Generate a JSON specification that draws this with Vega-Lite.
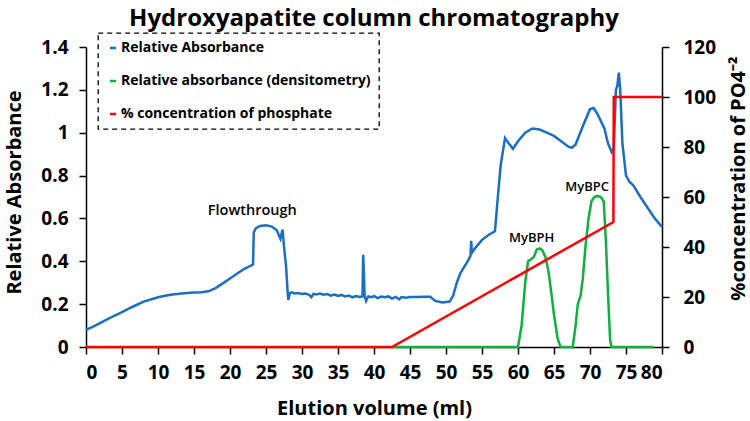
{
  "$schema": "https://vega.github.io/schema/vega-lite/v6.json",
  "width": 576,
  "height": 300,
  "autosize": {"type": "none"},
  "padding": {"left": 86, "top": 47, "right": 88, "bottom": 74},
  "background": "white",
  "title": {"text": "Hydroxyapatite column chromatography", "fontSize": 24, "font": "Open Sans", "fontWeight": "bold", "anchor": "middle", "baseline": "alphabetic", "offset": -18, "color": "black"},
  "config": {
    "view": {"stroke": null},
    "font": "Open Sans",
    "axis": {"grid": false, "domainColor": "black", "domainWidth": 1.5, "tickColor": "black", "tickWidth": 1.5, "tickSize": 7, "labelFont": "Open Sans", "labelFontWeight": "bold", "labelFontSize": 19, "labelColor": "black", "labelOverlap": false, "titleFont": "Open Sans", "titleFontWeight": "bold", "titleFontSize": 20, "titleColor": "black"}
  },
  "datasets": {
    "main": [
      {"ml": 0, "value": 0.08, "series": "Relative Absorbance"},
      {"ml": 1, "value": 0.095, "series": "Relative Absorbance"},
      {"ml": 2, "value": 0.113, "series": "Relative Absorbance"},
      {"ml": 3, "value": 0.13, "series": "Relative Absorbance"},
      {"ml": 4, "value": 0.147, "series": "Relative Absorbance"},
      {"ml": 5, "value": 0.163, "series": "Relative Absorbance"},
      {"ml": 6, "value": 0.18, "series": "Relative Absorbance"},
      {"ml": 7, "value": 0.196, "series": "Relative Absorbance"},
      {"ml": 8, "value": 0.212, "series": "Relative Absorbance"},
      {"ml": 9, "value": 0.222, "series": "Relative Absorbance"},
      {"ml": 10, "value": 0.232, "series": "Relative Absorbance"},
      {"ml": 11, "value": 0.239, "series": "Relative Absorbance"},
      {"ml": 12, "value": 0.245, "series": "Relative Absorbance"},
      {"ml": 13, "value": 0.249, "series": "Relative Absorbance"},
      {"ml": 14, "value": 0.252, "series": "Relative Absorbance"},
      {"ml": 15, "value": 0.254, "series": "Relative Absorbance"},
      {"ml": 16, "value": 0.256, "series": "Relative Absorbance"},
      {"ml": 17, "value": 0.26, "series": "Relative Absorbance"},
      {"ml": 18, "value": 0.275, "series": "Relative Absorbance"},
      {"ml": 19, "value": 0.297, "series": "Relative Absorbance"},
      {"ml": 20, "value": 0.32, "series": "Relative Absorbance"},
      {"ml": 21, "value": 0.343, "series": "Relative Absorbance"},
      {"ml": 22, "value": 0.365, "series": "Relative Absorbance"},
      {"ml": 23.2, "value": 0.385, "series": "Relative Absorbance"},
      {"ml": 23.3, "value": 0.535, "series": "Relative Absorbance"},
      {"ml": 23.6, "value": 0.555, "series": "Relative Absorbance"},
      {"ml": 24.2, "value": 0.565, "series": "Relative Absorbance"},
      {"ml": 25, "value": 0.568, "series": "Relative Absorbance"},
      {"ml": 25.8, "value": 0.562, "series": "Relative Absorbance"},
      {"ml": 26.5, "value": 0.545, "series": "Relative Absorbance"},
      {"ml": 27.0, "value": 0.505, "series": "Relative Absorbance"},
      {"ml": 27.3, "value": 0.548, "series": "Relative Absorbance"},
      {"ml": 27.5, "value": 0.47, "series": "Relative Absorbance"},
      {"ml": 27.8, "value": 0.37, "series": "Relative Absorbance"},
      {"ml": 28.0, "value": 0.26, "series": "Relative Absorbance"},
      {"ml": 28.1, "value": 0.22, "series": "Relative Absorbance"},
      {"ml": 28.3, "value": 0.25, "series": "Relative Absorbance"},
      {"ml": 28.6, "value": 0.255, "series": "Relative Absorbance"},
      {"ml": 29, "value": 0.25, "series": "Relative Absorbance"},
      {"ml": 29.5, "value": 0.252, "series": "Relative Absorbance"},
      {"ml": 30, "value": 0.247, "series": "Relative Absorbance"},
      {"ml": 30.5, "value": 0.25, "series": "Relative Absorbance"},
      {"ml": 31, "value": 0.243, "series": "Relative Absorbance"},
      {"ml": 31.3, "value": 0.232, "series": "Relative Absorbance"},
      {"ml": 31.6, "value": 0.248, "series": "Relative Absorbance"},
      {"ml": 32, "value": 0.245, "series": "Relative Absorbance"},
      {"ml": 32.5, "value": 0.249, "series": "Relative Absorbance"},
      {"ml": 33, "value": 0.244, "series": "Relative Absorbance"},
      {"ml": 33.5, "value": 0.247, "series": "Relative Absorbance"},
      {"ml": 34, "value": 0.24, "series": "Relative Absorbance"},
      {"ml": 34.5, "value": 0.245, "series": "Relative Absorbance"},
      {"ml": 35, "value": 0.238, "series": "Relative Absorbance"},
      {"ml": 35.5, "value": 0.243, "series": "Relative Absorbance"},
      {"ml": 36, "value": 0.236, "series": "Relative Absorbance"},
      {"ml": 36.5, "value": 0.24, "series": "Relative Absorbance"},
      {"ml": 37, "value": 0.232, "series": "Relative Absorbance"},
      {"ml": 37.5, "value": 0.238, "series": "Relative Absorbance"},
      {"ml": 38, "value": 0.234, "series": "Relative Absorbance"},
      {"ml": 38.4, "value": 0.236, "series": "Relative Absorbance"},
      {"ml": 38.5, "value": 0.43, "series": "Relative Absorbance"},
      {"ml": 38.7, "value": 0.24, "series": "Relative Absorbance"},
      {"ml": 38.9, "value": 0.215, "series": "Relative Absorbance"},
      {"ml": 39.2, "value": 0.236, "series": "Relative Absorbance"},
      {"ml": 39.7, "value": 0.232, "series": "Relative Absorbance"},
      {"ml": 40, "value": 0.238, "series": "Relative Absorbance"},
      {"ml": 40.5, "value": 0.228, "series": "Relative Absorbance"},
      {"ml": 41, "value": 0.235, "series": "Relative Absorbance"},
      {"ml": 41.5, "value": 0.232, "series": "Relative Absorbance"},
      {"ml": 42, "value": 0.236, "series": "Relative Absorbance"},
      {"ml": 42.5, "value": 0.226, "series": "Relative Absorbance"},
      {"ml": 43, "value": 0.234, "series": "Relative Absorbance"},
      {"ml": 43.5, "value": 0.222, "series": "Relative Absorbance"},
      {"ml": 43.8, "value": 0.233, "series": "Relative Absorbance"},
      {"ml": 44.5, "value": 0.23, "series": "Relative Absorbance"},
      {"ml": 45, "value": 0.233, "series": "Relative Absorbance"},
      {"ml": 46, "value": 0.233, "series": "Relative Absorbance"},
      {"ml": 47, "value": 0.234, "series": "Relative Absorbance"},
      {"ml": 47.8, "value": 0.234, "series": "Relative Absorbance"},
      {"ml": 48.5, "value": 0.215, "series": "Relative Absorbance"},
      {"ml": 49.5, "value": 0.208, "series": "Relative Absorbance"},
      {"ml": 50.5, "value": 0.212, "series": "Relative Absorbance"},
      {"ml": 51, "value": 0.24, "series": "Relative Absorbance"},
      {"ml": 51.5, "value": 0.3, "series": "Relative Absorbance"},
      {"ml": 52, "value": 0.345, "series": "Relative Absorbance"},
      {"ml": 53, "value": 0.4, "series": "Relative Absorbance"},
      {"ml": 53.4, "value": 0.425, "series": "Relative Absorbance"},
      {"ml": 53.5, "value": 0.495, "series": "Relative Absorbance"},
      {"ml": 53.6, "value": 0.44, "series": "Relative Absorbance"},
      {"ml": 54, "value": 0.46, "series": "Relative Absorbance"},
      {"ml": 55, "value": 0.5, "series": "Relative Absorbance"},
      {"ml": 56, "value": 0.525, "series": "Relative Absorbance"},
      {"ml": 56.8, "value": 0.54, "series": "Relative Absorbance"},
      {"ml": 57.2, "value": 0.7, "series": "Relative Absorbance"},
      {"ml": 57.6, "value": 0.85, "series": "Relative Absorbance"},
      {"ml": 58.2, "value": 0.975, "series": "Relative Absorbance"},
      {"ml": 58.6, "value": 0.955, "series": "Relative Absorbance"},
      {"ml": 59.3, "value": 0.925, "series": "Relative Absorbance"},
      {"ml": 60, "value": 0.96, "series": "Relative Absorbance"},
      {"ml": 61, "value": 1.0, "series": "Relative Absorbance"},
      {"ml": 62, "value": 1.02, "series": "Relative Absorbance"},
      {"ml": 63, "value": 1.015, "series": "Relative Absorbance"},
      {"ml": 64, "value": 1.0, "series": "Relative Absorbance"},
      {"ml": 65, "value": 0.985, "series": "Relative Absorbance"},
      {"ml": 66, "value": 0.96, "series": "Relative Absorbance"},
      {"ml": 67, "value": 0.935, "series": "Relative Absorbance"},
      {"ml": 67.5, "value": 0.93, "series": "Relative Absorbance"},
      {"ml": 68, "value": 0.945, "series": "Relative Absorbance"},
      {"ml": 69, "value": 1.03, "series": "Relative Absorbance"},
      {"ml": 70, "value": 1.11, "series": "Relative Absorbance"},
      {"ml": 70.5, "value": 1.115, "series": "Relative Absorbance"},
      {"ml": 71, "value": 1.09, "series": "Relative Absorbance"},
      {"ml": 72, "value": 1.02, "series": "Relative Absorbance"},
      {"ml": 72.5, "value": 0.95, "series": "Relative Absorbance"},
      {"ml": 73, "value": 0.91, "series": "Relative Absorbance"},
      {"ml": 73.3, "value": 0.93, "series": "Relative Absorbance"},
      {"ml": 73.6, "value": 1.2, "series": "Relative Absorbance"},
      {"ml": 73.8, "value": 1.22, "series": "Relative Absorbance"},
      {"ml": 74.0, "value": 1.28, "series": "Relative Absorbance"},
      {"ml": 74.2, "value": 1.2, "series": "Relative Absorbance"},
      {"ml": 74.5, "value": 0.95, "series": "Relative Absorbance"},
      {"ml": 75, "value": 0.8, "series": "Relative Absorbance"},
      {"ml": 75.5, "value": 0.77, "series": "Relative Absorbance"},
      {"ml": 76, "value": 0.755, "series": "Relative Absorbance"},
      {"ml": 77, "value": 0.7, "series": "Relative Absorbance"},
      {"ml": 78, "value": 0.65, "series": "Relative Absorbance"},
      {"ml": 79, "value": 0.6, "series": "Relative Absorbance"},
      {"ml": 80, "value": 0.56, "series": "Relative Absorbance"},
      {"ml": 42.5, "value": 0, "series": "Relative absorbance (densitometry)"},
      {"ml": 60, "value": 0, "series": "Relative absorbance (densitometry)"},
      {"ml": 60.5, "value": 0.1, "series": "Relative absorbance (densitometry)"},
      {"ml": 61, "value": 0.3, "series": "Relative absorbance (densitometry)"},
      {"ml": 61.4, "value": 0.4, "series": "Relative absorbance (densitometry)"},
      {"ml": 61.8, "value": 0.41, "series": "Relative absorbance (densitometry)"},
      {"ml": 62.2, "value": 0.42, "series": "Relative absorbance (densitometry)"},
      {"ml": 62.6, "value": 0.455, "series": "Relative absorbance (densitometry)"},
      {"ml": 63, "value": 0.46, "series": "Relative absorbance (densitometry)"},
      {"ml": 63.4, "value": 0.45, "series": "Relative absorbance (densitometry)"},
      {"ml": 63.8, "value": 0.42, "series": "Relative absorbance (densitometry)"},
      {"ml": 64.2, "value": 0.36, "series": "Relative absorbance (densitometry)"},
      {"ml": 64.6, "value": 0.26, "series": "Relative absorbance (densitometry)"},
      {"ml": 65.0, "value": 0.15, "series": "Relative absorbance (densitometry)"},
      {"ml": 65.5, "value": 0.04, "series": "Relative absorbance (densitometry)"},
      {"ml": 65.9, "value": 0, "series": "Relative absorbance (densitometry)"},
      {"ml": 67.6, "value": 0, "series": "Relative absorbance (densitometry)"},
      {"ml": 68, "value": 0.1, "series": "Relative absorbance (densitometry)"},
      {"ml": 68.3, "value": 0.2, "series": "Relative absorbance (densitometry)"},
      {"ml": 68.7, "value": 0.24, "series": "Relative absorbance (densitometry)"},
      {"ml": 69, "value": 0.32, "series": "Relative absorbance (densitometry)"},
      {"ml": 69.4, "value": 0.48, "series": "Relative absorbance (densitometry)"},
      {"ml": 69.8, "value": 0.6, "series": "Relative absorbance (densitometry)"},
      {"ml": 70.2, "value": 0.68, "series": "Relative absorbance (densitometry)"},
      {"ml": 70.6, "value": 0.7, "series": "Relative absorbance (densitometry)"},
      {"ml": 71.0, "value": 0.705, "series": "Relative absorbance (densitometry)"},
      {"ml": 71.5, "value": 0.7, "series": "Relative absorbance (densitometry)"},
      {"ml": 71.9, "value": 0.68, "series": "Relative absorbance (densitometry)"},
      {"ml": 72.2, "value": 0.5, "series": "Relative absorbance (densitometry)"},
      {"ml": 72.5, "value": 0.25, "series": "Relative absorbance (densitometry)"},
      {"ml": 72.8, "value": 0.03, "series": "Relative absorbance (densitometry)"},
      {"ml": 73, "value": 0, "series": "Relative absorbance (densitometry)"},
      {"ml": 78.8, "value": 0, "series": "Relative absorbance (densitometry)"},
      {"ml": 0, "value": 0, "series": "% concentration of phosphate"},
      {"ml": 42.5, "value": 0, "series": "% concentration of phosphate"},
      {"ml": 73.25, "value": 50, "series": "% concentration of phosphate"},
      {"ml": 73.3, "value": 100, "series": "% concentration of phosphate"},
      {"ml": 80, "value": 100, "series": "% concentration of phosphate"}
    ],
    "labels": [
      {"ml": 23.1, "value": 0.635, "label": "Flowthrough", "size": "big"},
      {"ml": 61.9, "value": 0.507, "label": "MyBPH", "size": "small"},
      {"ml": 69.6, "value": 0.748, "label": "MyBPC", "size": "small"}
    ]
  },
  "layer": [
    {
      "layer": [
        {
          "data": {"name": "main"},
          "transform": [{"filter": "datum.series !== '% concentration of phosphate'"}],
          "mark": {"type": "line", "strokeWidth": 2.5, "interpolate": "linear"},
          "encoding": {
            "x": {"field": "ml", "type": "quantitative", "scale": {"domain": [0, 80], "nice": false}, "axis": {"values": [0,5,10,15,20,25,30,35,40,45,50,55,60,65,70,75,80], "labelOverlap": false, "title": "Elution volume (ml)", "labelPadding": 9, "titleX": 288, "titleY": 61, "titleBaseline": "middle", "titleAlign": "center"}},
            "y": {"field": "value", "type": "quantitative", "scale": {"domain": [0, 1.4], "nice": false}, "axis": {"values": [0,0.2,0.4,0.6,0.8,1,1.2,1.4], "format": "~f", "title": "Relative Absorbance", "labelPadding": 11, "titleAngle": 270, "titleX": -72, "titleY": 145, "titleBaseline": "middle", "titleAlign": "center"}},
            "color": {"field": "series", "type": "nominal", "scale": {"domain": ["Relative Absorbance", "Relative absorbance (densitometry)", "% concentration of phosphate"], "range": ["#1a6fc4", "#10b040", "#ff0000"]},
              "legend": {"title": null, "orient": "none", "legendX": 12, "legendY": -14, "symbolType": "stroke", "symbolSize": 36, "symbolStrokeWidth": 2.5, "labelFont": "Open Sans", "labelFontSize": 14, "labelFontWeight": "bold", "labelColor": "black", "labelOffset": 1, "rowPadding": 19, "padding": 8, "strokeColor": "black", "labelLimit": 400,
                "encode": {"legend": {"update": {"strokeDash": {"value": [5, 4]}, "strokeWidth": {"value": 1.3}}}}}},
            "detail": {"field": "series"}
          }
        },
        {
          "data": {"name": "labels"},
          "mark": {"type": "text", "font": "Open Sans", "fontWeight": 600, "color": "black"},
          "encoding": {
            "x": {"field": "ml", "type": "quantitative", "axis": {"values": [0,5,10,15,20,25,30,35,40,45,50,55,60,65,70,75,80], "labelOverlap": false, "title": "Elution volume (ml)", "labelPadding": 9, "titleX": 288, "titleY": 61, "titleBaseline": "middle", "titleAlign": "center"}},
            "y": {"field": "value", "type": "quantitative"},
            "text": {"field": "label"},
            "size": {"field": "size", "type": "nominal", "scale": {"domain": ["big", "small"], "range": [14.5, 13]}, "legend": null}
          }
        }
      ]
    },
    {
      "data": {"name": "main"},
      "transform": [{"filter": "datum.series === '% concentration of phosphate'"}],
      "mark": {"type": "line", "strokeWidth": 2.5},
      "encoding": {
        "x": {"field": "ml", "type": "quantitative", "axis": {"values": [0,5,10,15,20,25,30,35,40,45,50,55,60,65,70,75,80], "labelOverlap": false, "title": "Elution volume (ml)", "labelPadding": 9, "titleX": 288, "titleY": 61, "titleBaseline": "middle", "titleAlign": "center"}},
        "y": {"field": "value", "type": "quantitative", "scale": {"domain": [0, 120], "nice": false}, "axis": {"orient": "right", "values": [0,20,40,60,80,100,120], "title": "%concentration of PO4⁻²", "labelPadding": 14, "titleAngle": 270, "titleX": 76, "titleY": 131, "titleBaseline": "middle", "titleAlign": "center"}},
        "color": {"field": "series", "type": "nominal"}
      }
    }
  ],
  "resolve": {"scale": {"y": "independent"}}
}
